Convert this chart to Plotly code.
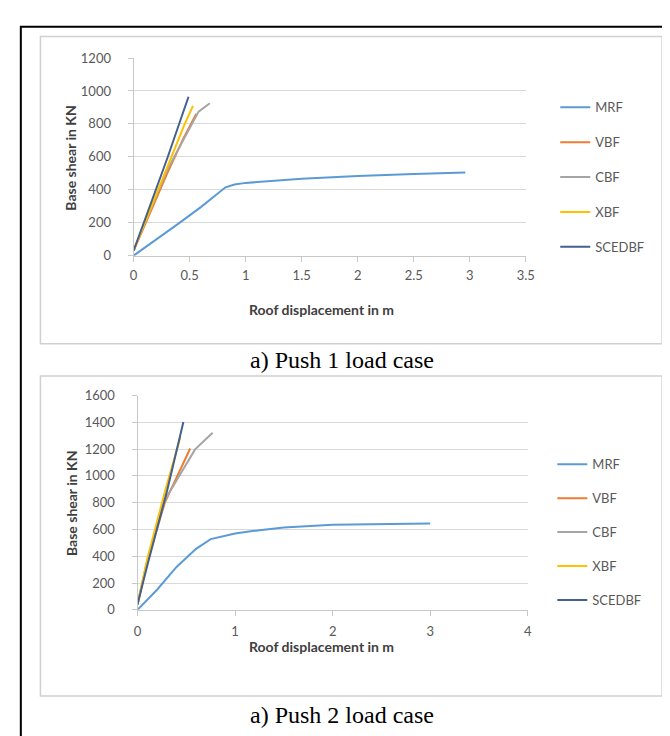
import plotly.graph_objects as go

W, H = 670, 736

series_names = ["MRF", "VBF", "CBF", "XBF", "SCEDBF"]
series_colors = ["#5b9bd5", "#ed7d31", "#a5a5a5", "#ffc000", "#44608f"]

# Push 1 load case
p1_mrf_x = [0, 0.2, 0.4, 0.6, 0.82, 0.9, 1.0, 1.5, 2.0, 2.5, 2.96]
p1_mrf_y = [0, 95, 195, 295, 415, 432, 442, 467, 484, 496, 505]
p1_vbf_x = [0, 0.1, 0.3, 0.45, 0.56]
p1_vbf_y = [30, 190, 500, 720, 862]
p1_cbf_x = [0, 0.1, 0.3, 0.58, 0.68]
p1_cbf_y = [30, 200, 520, 875, 926]
p1_xbf_x = [0, 0.1, 0.3, 0.45, 0.53]
p1_xbf_y = [30, 200, 540, 790, 910]
p1_sce_x = [0, 0.1, 0.3, 0.49]
p1_sce_y = [30, 215, 590, 965]

# Push 2 load case
p2_mrf_x = [0, 0.2, 0.4, 0.6, 0.75, 0.9, 1.0, 1.25, 1.5, 2.0, 2.5, 3.0]
p2_mrf_y = [0, 150, 320, 455, 528, 555, 570, 595, 615, 635, 640, 645]
p2_vbf_x = [0, 0.1, 0.28, 0.42, 0.54]
p2_vbf_y = [40, 360, 800, 1020, 1205]
p2_cbf_x = [0, 0.1, 0.28, 0.59, 0.77]
p2_cbf_y = [40, 370, 820, 1198, 1322]
p2_xbf_x = [0, 0.1, 0.28, 0.44]
p2_xbf_y = [40, 380, 880, 1290]
p2_sce_x = [0, 0.1, 0.3, 0.47]
p2_sce_y = [40, 330, 880, 1402]

x1_ticks = [0, 0.5, 1, 1.5, 2, 2.5, 3, 3.5]
x1_labels = ["0", "0.5", "1", "1.5", "2", "2.5", "3", "3.5"]
y1_ticks = [0, 200, 400, 600, 800, 1000, 1200]
x2_ticks = [0, 1, 2, 3, 4]
y2_ticks = [0, 200, 400, 600, 800, 1000, 1200, 1400, 1600]

x_title = "Roof displacement in m"
y_title = "Base shear in KN"
caption1 = "a) Push 1 load case"
caption2 = "a) Push 2 load case"


def px(x):
    return x / W


def py(y):
    return 1 - y / H


fig = go.Figure()

top = [(p1_mrf_x, p1_mrf_y), (p1_vbf_x, p1_vbf_y), (p1_cbf_x, p1_cbf_y),
       (p1_xbf_x, p1_xbf_y), (p1_sce_x, p1_sce_y)]
bot = [(p2_mrf_x, p2_mrf_y), (p2_vbf_x, p2_vbf_y), (p2_cbf_x, p2_cbf_y),
       (p2_xbf_x, p2_xbf_y), (p2_sce_x, p2_sce_y)]

for (xs, ys), name, col in zip(top, series_names, series_colors):
    fig.add_trace(go.Scatter(x=xs, y=ys, mode="lines", name=name,
                             line=dict(color=col, width=2),
                             xaxis="x", yaxis="y", legend="legend",
                             legendgroup="t" + name))
for (xs, ys), name, col in zip(bot, series_names, series_colors):
    fig.add_trace(go.Scatter(x=xs, y=ys, mode="lines", name=name,
                             line=dict(color=col, width=2),
                             xaxis="x2", yaxis="y2", legend="legend2",
                             legendgroup="b" + name))

FONT = "Lato, Noto Sans, sans-serif"
tick_font = dict(family=FONT, size=13, color="#595959")
axis_common = dict(showline=True, linecolor="#c8c8c8", linewidth=1,
                   ticks="outside", ticklen=5, tickcolor="#c8c8c8",
                   tickfont=tick_font, zeroline=False)

fig.update_layout(
    width=W, height=H,
    margin=dict(l=0, r=0, t=0, b=0),
    paper_bgcolor="white", plot_bgcolor="white",
    showlegend=True,
    xaxis=dict(domain=[px(124), px(524)], range=[0, 3.5], anchor="y",
               tickvals=x1_ticks, ticktext=x1_labels, showgrid=False,
               ticklabelstandoff=3, **axis_common),
    yaxis=dict(domain=[py(245), py(43)], range=[0, 1200], anchor="x",
               tickvals=y1_ticks, showgrid=True, gridcolor="#d9d9d9",
               ticklabelstandoff=14, **axis_common),
    xaxis2=dict(domain=[px(128), px(526)], range=[0, 4], anchor="y2",
                tickvals=x2_ticks, showgrid=False,
                ticklabelstandoff=5, **axis_common),
    yaxis2=dict(domain=[py(607), py(388)], range=[0, 1600], anchor="x2",
                tickvals=y2_ticks, showgrid=True, gridcolor="#d9d9d9",
                ticklabelstandoff=14, **axis_common),
    legend=dict(x=px(554), y=py(78), xanchor="left", yanchor="top",
                tracegroupgap=15, itemwidth=30,
                font=dict(family=FONT, size=13, color="#595959"),
                bgcolor="rgba(0,0,0,0)"),
    legend2=dict(x=px(551), y=py(443), xanchor="left", yanchor="top",
                 tracegroupgap=14, itemwidth=30,
                 font=dict(family=FONT, size=13, color="#595959"),
                 bgcolor="rgba(0,0,0,0)"),
)

shapes = [
    # outer frame
    dict(type="rect", xref="paper", yref="paper",
         x0=px(9), x1=px(680), y0=py(750), y1=py(11),
         line=dict(color="black", width=2)),
    # chart areas
    dict(type="rect", xref="paper", yref="paper",
         x0=px(29), x1=px(663), y0=py(335), y1=py(21),
         line=dict(color="#d0d0d0", width=1.5)),
    dict(type="rect", xref="paper", yref="paper",
         x0=px(29), x1=px(663), y0=py(695), y1=py(368),
         line=dict(color="#d0d0d0", width=1.5)),
]
fig.update_layout(shapes=shapes)

title_font = dict(family=FONT, size=14, color="#404040")
cap_font = dict(family="Liberation Serif, Times New Roman, serif", size=24, color="black")
annotations = [
    dict(text="<b>" + x_title + "</b>", x=px(316), y=py(300), xref="paper", yref="paper",
         showarrow=False, font=title_font, xanchor="center", yanchor="middle"),
    dict(text="<b>" + y_title + "</b>", x=px(60), y=py(145), xref="paper", yref="paper",
         showarrow=False, font=title_font, textangle=-90, xanchor="center", yanchor="middle"),
    dict(text="<b>" + x_title + "</b>", x=px(316), y=py(645), xref="paper", yref="paper",
         showarrow=False, font=title_font, xanchor="center", yanchor="middle"),
    dict(text="<b>" + y_title + "</b>", x=px(60), y=py(498), xref="paper", yref="paper",
         showarrow=False, font=title_font, textangle=-90, xanchor="center", yanchor="middle"),
    dict(text=caption1, x=px(337), y=py(352), xref="paper", yref="paper",
         showarrow=False, font=cap_font, xanchor="center", yanchor="middle"),
    dict(text=caption2, x=px(337), y=py(715), xref="paper", yref="paper",
         showarrow=False, font=cap_font, xanchor="center", yanchor="middle"),
]
fig.update_layout(annotations=annotations)

fig.write_html("out.html")
